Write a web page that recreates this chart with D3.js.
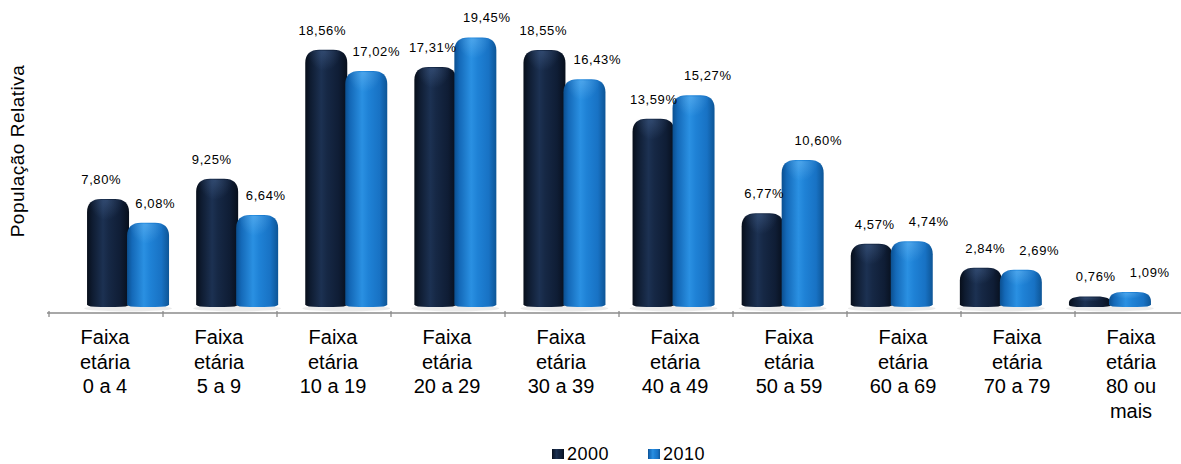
<!DOCTYPE html>
<html><head><meta charset="utf-8">
<script src="https://cdn.jsdelivr.net/npm/d3@7"></script>
<style>
html,body{margin:0;padding:0;background:#fff;}
text{font-family:"Liberation Sans",Arial,sans-serif;fill:#000;}
</style></head>
<body>
<svg id="chart" width="1181" height="464"></svg>
<script>
const categories = [
  ["Faixa","etária","0 a 4"],
  ["Faixa","etária","5 a 9"],
  ["Faixa","etária","10 a 19"],
  ["Faixa","etária","20 a 29"],
  ["Faixa","etária","30 a 39"],
  ["Faixa","etária","40 a 49"],
  ["Faixa","etária","50 a 59"],
  ["Faixa","etária","60 a 69"],
  ["Faixa","etária","70 a 79"],
  ["Faixa","etária","80 ou","mais"]
];
const seriesNames = ["2000","2010"];
const values2000 = [7.80, 9.25, 18.56, 17.31, 18.55, 13.59, 6.77, 4.57, 2.84, 0.76];
const values2010 = [6.08, 6.64, 17.02, 19.45, 16.43, 15.27, 10.60, 4.74, 2.69, 1.09];
const yTitle = "População Relativa";

const svg = d3.select("#chart");
const W = 1181, H = 464;
const baseY = 307, axisY = 313;

const idx = d3.range(categories.length);
const xAxis = d3.scaleBand().domain(idx).range([49, 49 + 114 * 10]).padding(0);
const xBars = d3.scaleBand().domain(idx).range([73.5, 1164.5]).padding(0);
const xLabels = d3.scaleBand().domain(idx).range([73, 1178]).padding(0);
const y = d3.scaleLinear().domain([0, 20]).range([baseY, baseY - 20 * 13.86]);

const defs = svg.append("defs");
function hGrad(id, stops){
  const g = defs.append("linearGradient").attr("id", id).attr("x1","0").attr("x2","1").attr("y1","0").attr("y2","0");
  stops.forEach(s => g.append("stop").attr("offset", s[0]).attr("stop-color", s[1]));
}
hGrad("g2000", [[0,"#070e1a"],[0.12,"#0e1b30"],[0.38,"#1c3152"],[0.52,"#162845"],[0.8,"#0f1d35"],[1,"#070f1c"]]);
hGrad("g2010", [[0,"#0b4f8f"],[0.12,"#1469b8"],[0.4,"#2a90e2"],[0.55,"#1f82d6"],[0.82,"#1872c4"],[1,"#0d5596"]]);
function capGrad(id, color, op){
  const rg = defs.append("radialGradient").attr("id", id).attr("cx","0.45").attr("cy","0.0")
    .attr("r","0.5").attr("gradientUnits","objectBoundingBox");
  rg.append("stop").attr("offset",0).attr("stop-color",color).attr("stop-opacity",op);
  rg.append("stop").attr("offset",1).attr("stop-color",color).attr("stop-opacity",0);
}
capGrad("cap2000", "#5b7cae", 0.35);
capGrad("cap2010", "#8fd0ff", 0.35);

// axis line
const axisG = svg.append("g");
axisG.append("line").attr("x1", 47).attr("x2", W).attr("y1", axisY).attr("y2", axisY)
  .attr("stroke", "#a8a8a8").attr("stroke-width", 2);
idx.forEach(i => {
  axisG.append("line").attr("x1", xAxis(i)).attr("x2", xAxis(i))
    .attr("y1", axisY - 2).attr("y2", axisY + 4).attr("stroke", "#8c8c8c").attr("stroke-width", 1.3);
});

const barW = 42;
function barPath(x, top, w, bottom){
  const h = bottom - top;
  const rx = Math.min(14, w / 2);
  const ry = Math.min(13, h * 0.6);
  const by = Math.min(2.5, h * 0.2);
  return `M${x},${bottom - by}` +
    `L${x},${top + ry}` +
    `C${x},${top + ry * 0.35} ${x + rx * 0.35},${top} ${x + rx},${top}` +
    `L${x + w - rx},${top}` +
    `C${x + w - rx * 0.35},${top} ${x + w},${top + ry * 0.35} ${x + w},${top + ry}` +
    `L${x + w},${bottom - by}` +
    `Q${x + w},${bottom} ${x + w - rx},${bottom}` +
    `L${x + rx},${bottom}` +
    `Q${x},${bottom} ${x},${bottom - by}Z`;
}
const series = [
  {name: "2000", values: values2000, fill: "url(#g2000)", cap: "url(#cap2000)", dx: -41},
  {name: "2010", values: values2010, fill: "url(#g2010)", cap: "url(#cap2010)", dx: -1}
];
svg.append("g").selectAll("ellipse").data(idx).join("ellipse")
  .attr("cx", i => xBars(i) + xBars.bandwidth() / 2)
  .attr("cy", baseY + 1.5).attr("rx", 44).attr("ry", 3)
  .attr("fill", "#000").attr("opacity", 0.08);

series.forEach(s => {
  const g = svg.append("g");
  g.selectAll("path.bar").data(s.values).join("path").attr("class","bar")
    .attr("d", (v, i) => barPath(xBars(i) + xBars.bandwidth() / 2 + s.dx, y(v), barW, baseY))
    .attr("fill", s.fill);
  g.selectAll("rect.cap").data(s.values).join("rect").attr("class","cap")
    .attr("x", (v, i) => xBars(i) + xBars.bandwidth() / 2 + s.dx + 4)
    .attr("y", v => y(v) + 1)
    .attr("width", barW - 8)
    .attr("height", v => Math.min(40, (baseY - y(v)) * 0.8))
    .attr("fill", s.cap);
});

const fmt = v => v.toFixed(2).replace(".", ",") + "%";
series.forEach((s, si) => {
  svg.append("g").selectAll("text").data(s.values).join("text")
    .attr("x", (v, i) => xLabels(i) + xLabels.bandwidth() / 2 + (si === 0 ? -27 : 27))
    .attr("y", v => y(v) - 15)
    .attr("text-anchor", "middle")
    .attr("font-size", 13).attr("letter-spacing", 0.6)
    .text(v => fmt(v));
});

const catG = svg.append("g");
categories.forEach((lines, i) => {
  const cx = xAxis(i) + xAxis.bandwidth() / 2 - 1;
  const t = catG.append("text").attr("text-anchor", "middle").attr("font-size", 20);
  lines.forEach((l, k) => {
    t.append("tspan").attr("x", cx).attr("y", 344 + k * 24.5).text(l);
  });
});

svg.append("text")
  .attr("transform", "translate(24,151) rotate(-90)")
  .attr("text-anchor", "middle").attr("font-size", 19).attr("letter-spacing", 0.5)
  .text(yTitle);

const legend = svg.append("g");
const legX = [552, 648];
seriesNames.forEach((n, i) => {
  legend.append("rect").attr("x", legX[i]).attr("y", 449).attr("width", 12).attr("height", 10)
    .attr("fill", series[i].fill);
  legend.append("text").attr("x", legX[i] + 15).attr("y", 460)
    .attr("font-size", 18).attr("letter-spacing", 0.5).text(n);
});
</script>
</body></html>
